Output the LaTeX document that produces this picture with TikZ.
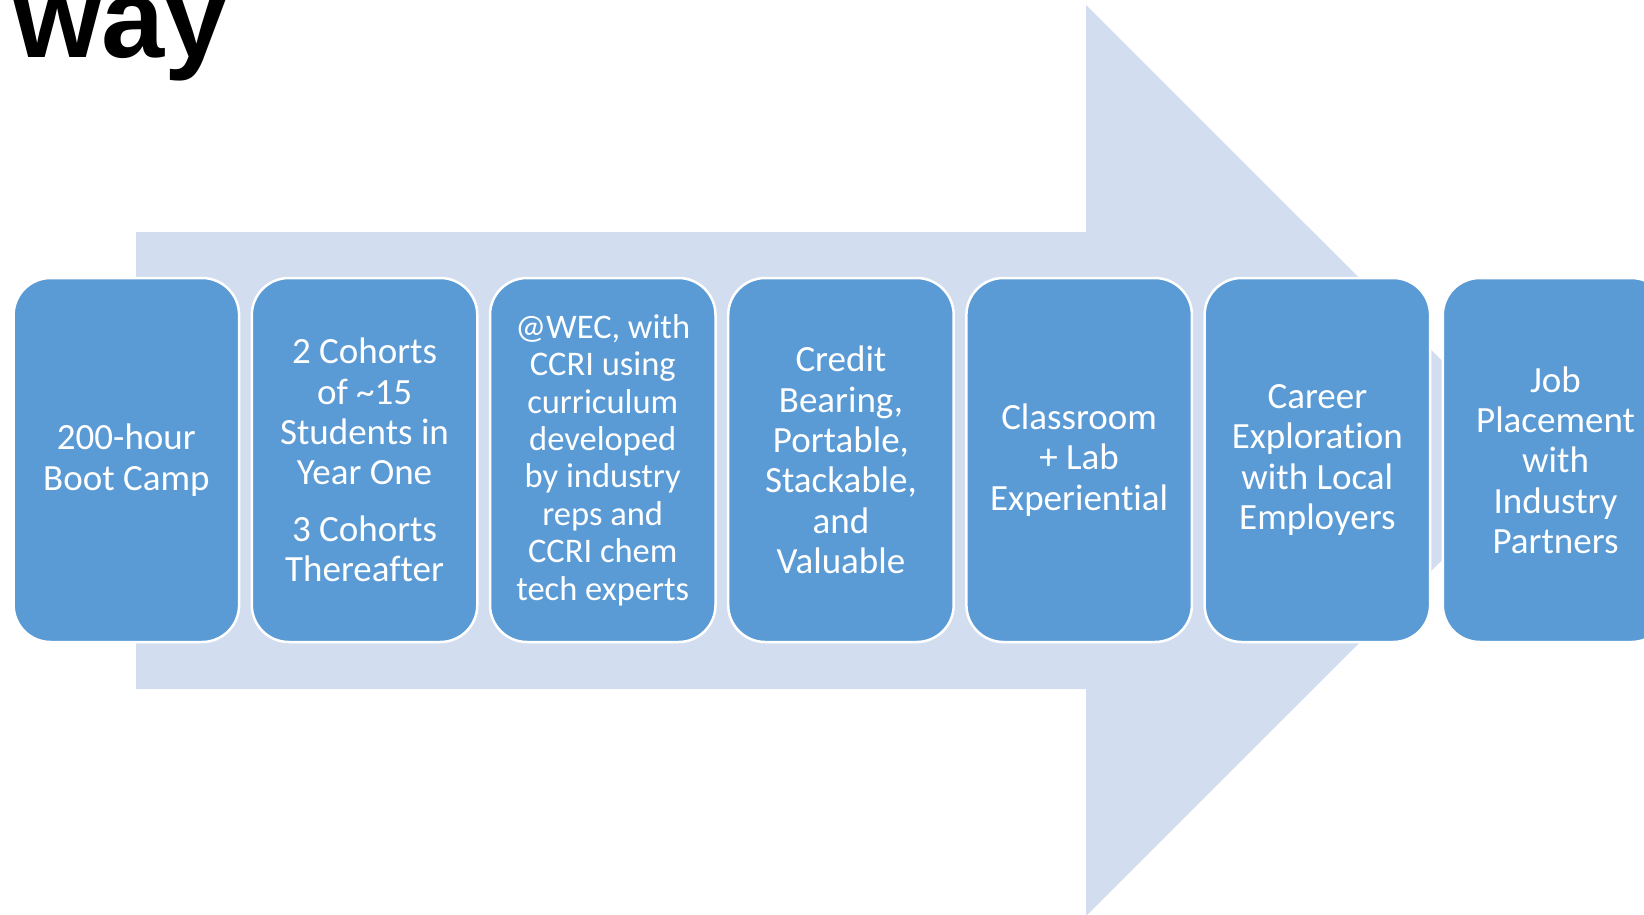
\documentclass[tikz,border=0pt]{standalone}
\usepackage{fontspec}
\setmainfont[Ligatures=NoCommon]{Carlito}
\newfontfamily\titlefont{Liberation Sans}
\definecolor{boxblue}{HTML}{5B9BD5}
\definecolor{arrowblue}{HTML}{D2DEEF}
\begin{document}
\begin{tikzpicture}[x=1pt,y=-1pt,
  stepbox/.style={rectangle, draw=white, line width=2.5pt, fill=boxblue,
    rounded corners=37pt, minimum width=225.5pt, minimum height=364pt,
    inner sep=0pt, text=white, align=center,
    font=\fontsize{37}{40.3}\selectfont},
  smalltext/.style={font=\fontsize{34.5}{37.4}\selectfont},
  bigarrow/.style={fill=arrowblue, draw=none},
  titletext/.style={font=\titlefont\bfseries\fontsize{113.5}{113.5}\selectfont, text=black, inner sep=0pt}
]
\useasboundingbox (0,0) rectangle (1644,914);
\clip (0,0) rectangle (1644,914);
% background arrow
\path[bigarrow] (136,232) -- (1086,232) -- (1086,5) -- (1542,460.5)
  -- (1086,916) -- (1086,689) -- (136,689) -- cycle;
% title fragment
\node[titletext, anchor=base east] (title) at (228,57) {way};
% step boxes
\node[stepbox] (b1) at (126.35,460) {200-hour\\Boot Camp};
\node[stepbox] (b2) at (364.55,460) {2 Cohorts\\of \textasciitilde15\\Students in\\Year One\\[16pt]3 Cohorts\\Thereafter};
\node[stepbox, smalltext] (b3) at (602.75,460) {@WEC, with\\CCRI using\\curriculum\\developed\\by industry\\reps and\\CCRI chem\\tech experts};
\node[stepbox] (b4) at (840.95,460) {Credit\\Bearing,\\Portable,\\Stackable,\\and\\Valuable};
\node[stepbox] (b5) at (1079.15,460) {Classroom\\+ Lab\\Experiential};
\node[stepbox] (b6) at (1317.35,460) {Career\\Exploration\\with Local\\Employers};
\node[stepbox] (b7) at (1555.55,460) {Job\\Placement\\with\\Industry\\Partners};
\end{tikzpicture}
\end{document}
